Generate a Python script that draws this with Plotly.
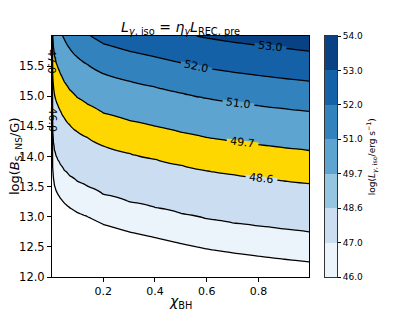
import numpy as np
import plotly.graph_objects as go

# ---------------- data ----------------
LEVELS = [46.0, 47.0, 48.6, 49.7, 51.0, 52.0, 53.0, 54.0]
LEVEL_LABELS = ["46.0", "47.0", "48.6", "49.7", "51.0", "52.0", "53.0", "54.0"]
BAND_COLORS = ["#ebf3fb", "#cbdef1", "#96c6df", "#5da4d0", "#3282be", "#1461a8", "#084184"]
HIGHLIGHT_BAND = 2            # 48.6 - 49.7 band drawn in gold on the map
HIGHLIGHT_COLOR = "#ffd700"

# spin samples and the field read along each column:
# log L = L_AT_B12 + SLOPE * (log B - 12)
CHI = [0.0025, 0.005, 0.008, 0.012, 0.018, 0.025, 0.035, 0.05, 0.07, 0.1,
       0.14, 0.2, 0.3, 0.4, 0.5, 0.6, 0.7, 0.8, 0.9, 0.995]
SLOPE = [1.70, 1.70, 1.70, 1.72, 1.74, 1.76, 1.79, 1.84, 1.89, 1.94,
         1.98, 2.0, 2.0, 2.0, 2.0, 2.0, 2.0, 2.0, 2.0, 2.0]
L_AT_B12 = [38.5, 42.9, 43.2, 43.38, 43.5, 43.58, 43.66, 43.74, 43.82, 43.92,
            44.02, 44.25, 44.5, 44.69, 44.89, 45.07, 45.2, 45.31, 45.41, 45.5]
LOGB_RANGE = [12.0, 16.0]

X_TICKS = [0.2, 0.4, 0.6, 0.8]
Y_TICKS = [12.0, 12.5, 13.0, 13.5, 14.0, 14.5, 15.0, 15.5]

# inline contour labels: level -> chi position along the line
LABEL_LEVELS = [53.0, 52.0, 51.0, 49.7, 48.6]
LABEL_CHI = [0.845, 0.561, 0.723, 0.74, 0.813]
SPINE_LABEL_LEVELS = [47.0, 46.0]
SPINE_LABEL_LOGB = [15.58, 14.61]

# ---------------- build field ----------------
chi = np.array(CHI)
slope = np.array(SLOPE)
l12 = np.array(L_AT_B12)
logb = np.linspace(LOGB_RANGE[0], LOGB_RANGE[1], 161)
L = l12[None, :] + slope[None, :] * (logb[:, None] - 12.0)

# map the uneven levels onto an even index scale (0..7) for plotly's contour
lev = np.array(LEVELS)
idx = np.arange(len(LEVELS), dtype=float)
U = np.interp(L, lev, idx)
U = np.where(L < lev[0], (L - lev[0]) / (lev[1] - lev[0]), U)
U = np.where(L > lev[-1], idx[-1] + (L - lev[-1]) / (lev[-1] - lev[-2]), U)

nb = len(BAND_COLORS)
map_colors = [HIGHLIGHT_COLOR if k == HIGHLIGHT_BAND else c for k, c in enumerate(BAND_COLORS)]
# plotly fills band k with colorscale value (k+1)/(nb+1); value 0 -> below lowest level
cscale = [[0.0, "#ffffff"]] + [[(k + 1) / (nb + 1), c] for k, c in enumerate(map_colors)] \
         + [[1.0, map_colors[-1]]]

FONT = "DejaVu Sans"
fig = go.Figure()

fig.add_trace(go.Contour(
    x=CHI, y=logb, z=U,
    autocontour=False,
    contours=dict(start=0, end=nb, size=1, coloring="fill", showlines=True),
    colorscale=cscale,
    line=dict(width=1.3, color="black", smoothing=1),
    showscale=False, hoverinfo="skip"))

# colour bar as a small heatmap
fig.add_trace(go.Heatmap(
    x=[0], y=[k + 0.5 for k in range(nb)],
    z=[[k] for k in range(nb)],
    colorscale=[[k / (nb - 1), c] for k, c in enumerate(BAND_COLORS)],
    zmin=0, zmax=nb - 1, showscale=False,
    xaxis="x2", yaxis="y2", hoverinfo="skip"))

# ---------------- labels ----------------
annotations = []
PX_PER_CHI = 257.0 / (CHI[-1] - CHI[0])
PX_PER_LOGB = 241.0 / 4.0
for lv, cx in zip(LABEL_LEVELS, LABEL_CHI):
    a = np.interp(cx, chi, slope)
    c = np.interp(cx, chi, l12)
    y = 12.0 + (lv - c) / a
    d = 0.02
    y2 = 12.0 + (lv - np.interp(cx + d, chi, l12)) / np.interp(cx + d, chi, slope)
    ang = float(np.degrees(np.arctan(-(y2 - y) / d * PX_PER_LOGB / PX_PER_CHI)))
    below = map_colors[LEVELS.index(lv) - 1]
    # gap in the contour line under the label
    annotations.append(dict(x=cx, y=y, xref="x", yref="y", text=" ",
                            width=31, height=3, borderpad=0, bgcolor=below,
                            showarrow=False, textangle=ang,
                            xanchor="center", yanchor="middle",
                            font=dict(family=FONT, size=1, color=below)))
    annotations.append(dict(x=cx, y=y, xref="x", yref="y", text=f"{lv:.1f}",
                            showarrow=False, textangle=ang,
                            xanchor="center", yanchor="middle",
                            font=dict(family=FONT, size=11, color="black")))
for lv, yb in zip(SPINE_LABEL_LEVELS, SPINE_LABEL_LOGB):
    annotations.append(dict(x=0.003, y=yb, xref="x", yref="y", text=f"{lv:.1f}",
                            showarrow=False, textangle=90,
                            xanchor="center", yanchor="middle",
                            font=dict(family=FONT, size=11, color="black")))

# axis titles and colour bar title
annotations.append(dict(x=-0.128, y=0.5, xref="paper", yref="paper",
                        text="log(<i>B</i><sub>S, NS</sub>/G)", textangle=-90,
                        xanchor="center", yanchor="middle",
                        showarrow=False, font=dict(family=FONT, size=13, color="black")))
annotations.append(dict(x=0.451, y=-0.105, xref="paper", yref="paper",
                        text="<i>χ</i><sub>BH</sub>",
                        xanchor="center", yanchor="middle",
                        showarrow=False, font=dict(family=FONT, size=14, color="black")))
annotations.append(dict(x=1.122, y=0.5, xref="paper", yref="paper",
                        text="log(<i>L</i><sub><i>γ</i>, iso</sub>/erg s<sup>−1</sup>)",
                        textangle=-90, xanchor="center", yanchor="middle",
                        showarrow=False, font=dict(family=FONT, size=9, color="black")))

axis_common = dict(showgrid=False, zeroline=False, showline=True, mirror=True,
                   linecolor="black", linewidth=1, ticks="outside", ticklen=4,
                   tickcolor="black", tickwidth=1)

# the page adds an 8 px body margin, so the figure is 8 px smaller than the window
fig.update_layout(
    width=407, height=303,
    margin=dict(l=44, r=78, t=28, b=34),
    paper_bgcolor="white", plot_bgcolor="white",
    showlegend=False,
    title=dict(text="<i>L</i><sub><i>γ</i>, iso</sub> = <i>η</i><sub><i>γ</i></sub><i>L</i><sub>REC, pre</sub>",
               x=0.451, xref="paper", xanchor="center",
               y=0.937, yref="container", yanchor="middle",
               font=dict(family=FONT, size=14, color="black")),
    xaxis=dict(domain=[0, 0.9018], range=[CHI[0], CHI[-1]],
               tickvals=X_TICKS, ticktext=[f"{v:.1f}" for v in X_TICKS],
               tickfont=dict(family=FONT, size=11, color="black"), **axis_common),
    yaxis=dict(range=LOGB_RANGE,
               tickvals=Y_TICKS, ticktext=[f"{v:.1f}" for v in Y_TICKS],
               tickfont=dict(family=FONT, size=11.5, color="black"), **axis_common),
    xaxis2=dict(domain=[0.958, 1.0], range=[-0.5, 0.5], anchor="y2",
                showticklabels=False, showgrid=False, zeroline=False,
                showline=True, mirror=True, linecolor="#333333", linewidth=1, ticks=""),
    yaxis2=dict(anchor="x2", side="right", range=[0, nb],
                tickvals=list(range(len(LEVELS))), ticktext=LEVEL_LABELS,
                showgrid=False, zeroline=False, showline=True, mirror=True,
                linecolor="#333333", linewidth=1, ticks="outside", ticklen=3,
                tickcolor="black", tickfont=dict(family=FONT, size=9, color="black")),
    annotations=annotations,
)

fig.write_html("out.html")
